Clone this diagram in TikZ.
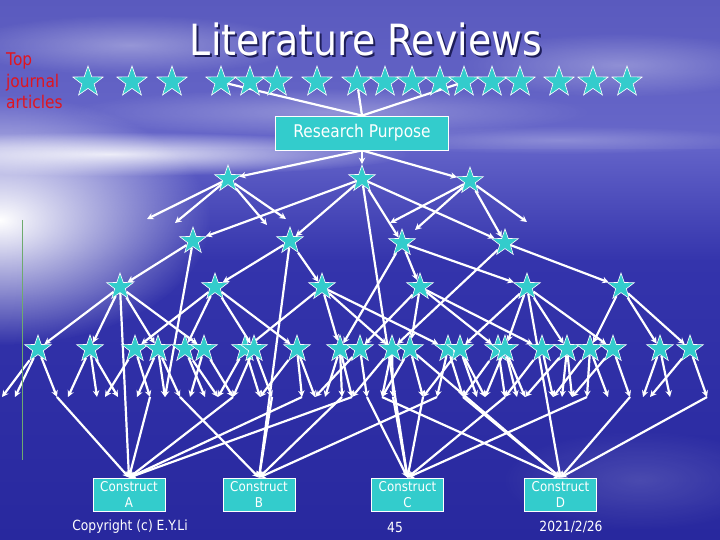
\documentclass[tikz,border=0pt]{standalone}
\usepackage{fontspec}
\setmainfont{DejaVu Sans}[FakeStretch=0.88]
\usetikzlibrary{shapes.geometric,arrows.meta,fadings}
\pgfdeclarelayer{bg}
\pgfdeclarelayer{edges}
\pgfsetlayers{bg,edges,main}
\tikzfading[name=glowfade, inner color=transparent!0, outer color=transparent!100]
\definecolor{teal1}{RGB}{51,204,204}
\definecolor{skytop}{RGB}{90,90,190}
\definecolor{skybot}{RGB}{104,104,202}
\definecolor{seatop}{RGB}{98,98,200}
\definecolor{seamid}{RGB}{52,52,172}
\definecolor{seabot}{RGB}{40,40,158}
\definecolor{redt}{RGB}{225,20,30}
\definecolor{shadowc}{RGB}{30,30,90}
\definecolor{greenl}{RGB}{110,170,110}
\tikzset{
  bigstar/.style={star, star points=5, star point ratio=2.5, fill=teal1, draw=white,
    line width=0.6pt, minimum size=32pt, inner sep=0pt},
  lstar/.style={bigstar, minimum size=28pt},
  arr/.style={draw=white, line width=2.2pt, -{Stealth[length=6.5pt,width=6.5pt]}},
  plainln/.style={draw=white, line width=2.2pt},
  cbox/.style={draw=white, line width=0.8pt, fill=teal1, minimum width=72pt,
    minimum height=33pt, inner sep=1pt, align=center,
    font=\fontsize{13.5}{16}\selectfont, text=white},
  foot/.style={text=white, font=\fontsize{14}{16}\selectfont, inner sep=0pt}
}
\begin{document}
\begin{tikzpicture}[x=1pt,y=-1pt]
\useasboundingbox (0,0) rectangle (720,540);
\begin{pgfonlayer}{bg}
  \fill[top color=skytop, bottom color=skybot] (0,0) rectangle (720,152);
  \fill[top color=seatop, bottom color=seamid] (0,150) rectangle (720,262);
  \fill[top color=seamid, bottom color=seabot] (0,260) rectangle (720,540);
  \fill[white, path fading=glowfade, opacity=0.35] (130,45) ellipse (170 and 30);
  \fill[white, path fading=glowfade, opacity=0.3] (620,65) ellipse (160 and 32);
  \fill[white, path fading=glowfade, opacity=0.3] (330,112) ellipse (260 and 24);
  \fill[white, path fading=glowfade, opacity=0.25] (560,140) ellipse (200 and 14);
  \fill[white, path fading=glowfade, opacity=0.85] (110,154) ellipse (300 and 22);
  \fill[white, path fading=glowfade, opacity=1] (0,220) ellipse (210 and 125);
  \fill[white, path fading=glowfade, opacity=0.15] (640,480) ellipse (140 and 50);
\end{pgfonlayer}

% green line
\draw[greenl, line width=0.8pt] (22,220) -- (22,460);

% title with shadow in one node
\node[text=white, font=\fontsize{43}{50}\selectfont] (title) at (366,40)
  {\rlap{\hspace{2pt}\raisebox{-2pt}{\textcolor{shadowc}{Literature Reviews}}}Literature Reviews};
\node[align=left, anchor=north west, text=redt, font=\fontsize{17.5}{21.5}\selectfont, inner sep=0pt]
  (tja) at (6,53) {Top\\journal\\articles};

% top stars
\foreach \x [count=\i] in {88,132,172,221,250,277,317,357,385,412,440,464,492,520,559,593,627}
  \node[bigstar] (t\i) at (\x,82) {};

% research purpose
\node[draw=white, line width=0.8pt, fill=teal1, minimum width=173pt, minimum height=34pt,
  font=\fontsize{17.5}{20}\selectfont, text=white] (rp) at (362,133) {Research Purpose};

% levels
\node[lstar] (a1) at (228,179) {};
\node[lstar] (a2) at (362,179) {};
\node[lstar] (a3) at (470,181) {};
\node[lstar] (b1) at (193,241) {};
\node[lstar] (b2) at (290,241) {};
\node[lstar] (b3) at (402,243) {};
\node[lstar] (b4) at (505,243) {};
\foreach \x [count=\i] in {120,215,322,420,527,621}
  \node[lstar] (c\i) at (\x,287) {};
\foreach \x [count=\i] in {38,90,135,158,185,204,245,254,297,340,360,392,410,448,460,498,505,542,567,590,613,660,690}
  \node[lstar] (w\i) at (\x,349) {};

% constructs
\node[cbox] (cA) at (129,494.5) {Construct\\A};
\node[cbox] (cB) at (259,494.5) {Construct\\B};
\node[cbox] (cC) at (407.5,494.5) {Construct\\C};
\node[cbox] (cD) at (560.5,494.5) {Construct\\D};

% footer
\node[foot] (copy) at (130,527) {Copyright (c) E.Y.Li};
\node[foot] (pg) at (395,527) {45};
\node[foot] (dt) at (571,527) {2021/2/26};

% free coordinates
\coordinate (f1) at (147,219);
\coordinate (f2) at (175,223);
\coordinate (f3) at (267,225);
\coordinate (f4) at (286,219);
\coordinate (f5) at (390,223);
\coordinate (f6) at (415,230);
\coordinate (f7) at (527,222);
\foreach \x in {2,15,57,68,97,105,118,137,150,165,180,190,205,218,233,260,272,302,315,325,342,352,367,382,393,423,437,463,477,485,505,517,525,553,562,572,587,608,630,643,650,670,707}
  \coordinate (e\x) at (\x,397);

\begin{pgfonlayer}{edges}
  % top stars to purpose
  \foreach \s in {t4,t8,t12} \draw[plainln] (\s) -- (rp.north);
  % purpose to level 1
  \foreach \s in {a1,a2,a3} \draw[arr] (rp.south) -- (\s);
  % level 1
  \foreach \s in {f1,f2,f3,f4} \draw[arr] (a1) -- (\s);
  \foreach \s in {b1,b2,b3,b4} \draw[arr] (a2) -- (\s);
  \foreach \s in {f5,f6,b4,f7} \draw[arr] (a3) -- (\s);
  % level 2
  \draw[arr] (b1) -- (c1);
  \draw[arr] (b1) -- (e165);
  \draw[arr] (b2) -- (c2);
  \draw[arr] (b2) -- (c3);
  \draw[arr] (b3) -- (c4);
  \draw[arr] (b3) -- (c5);
  \draw[arr] (b3) -- (w10);
  \draw[arr] (b4) -- (c6);
  \draw[arr] (b4) -- (w12);
  % level 3
  \foreach \t in {1,2,4,6} \draw[arr] (c1) -- (w\t);
  \foreach \t in {3,5,8,9} \draw[arr] (c2) -- (w\t);
  \foreach \t in {7,10,12,14} \draw[arr] (c3) -- (w\t);
  \foreach \t in {11,13,16,18} \draw[arr] (c4) -- (w\t);
  \foreach \t in {15,17,19,21} \draw[arr] (c5) -- (w\t);
  \foreach \t in {20,22,23} \draw[arr] (c6) -- (w\t);
  % level 4 downward
  \foreach \s/\e in {1/2,1/15,1/57,2/68,2/97,2/118,3/105,3/150,4/137,4/165,4/180,
      5/205,5/218,6/190,6/233,7/218,7/260,8/233,8/272,9/260,9/302,9/315,
      10/325,10/342,10/352,11/315,11/367,12/352,12/382,12/393,13/382,13/423,
      14/437,14/463,15/423,15/477,15/485,16/463,16/505,17/485,17/517,17/525,
      18/505,18/553,19/525,19/562,19/572,20/553,20/587,20/608,21/572,21/630,
      22/643,22/670,23/650,23/707}
    \draw[arr] (w\s) -- (e\e);
  % to constructs
  \foreach \s in {e57,c1,e150,e233,e302,e352} \draw[arr] (\s) -- (cA.north);
  \foreach \s in {e180,b2,e272,e342,e437} \draw[arr] (\s) -- (cB.north);
  \foreach \s in {a2,e367,e393,e423,e505,e587} \draw[arr] (\s) -- (cC.north);
  \foreach \s in {e382,w13,e463,c5,e630,e707} \draw[arr] (\s) -- (cD.north);
\end{pgfonlayer}
\end{tikzpicture}
\end{document}
